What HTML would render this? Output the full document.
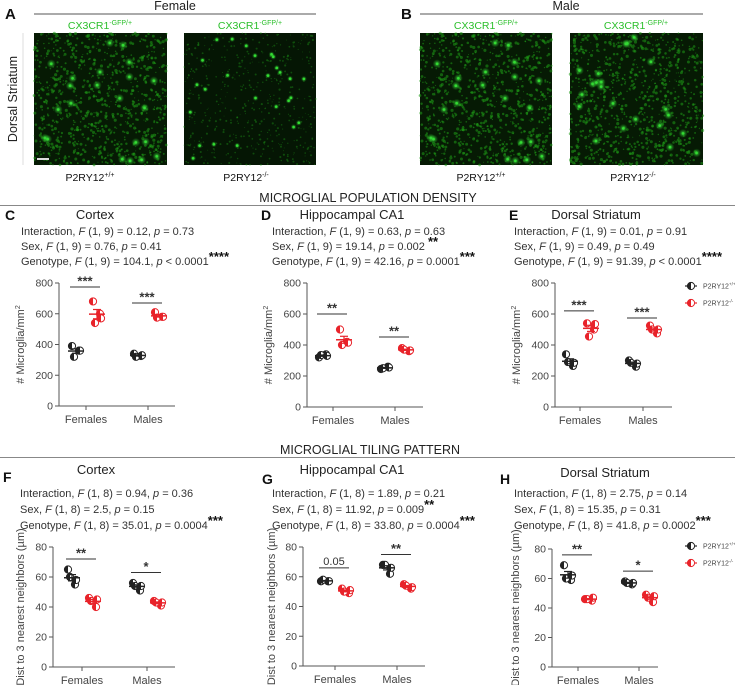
<!DOCTYPE html>
<html><head><meta charset="utf-8">
<style>
body{margin:0;background:#fff;}
svg{display:block;font-family:"Liberation Sans",Arial,sans-serif;}
</style></head>
<body>
<svg id="fig" width="735" height="685" viewBox="0 0 735 685" xmlns="http://www.w3.org/2000/svg">
<defs>
<radialGradient id="cell"><stop offset="0" stop-color="#4e4" stop-opacity="0.9"/><stop offset="1" stop-color="#2a2" stop-opacity="0"/></radialGradient>
</defs>
<g id="images"></g>
<g id="charts"></g>
</svg>
<script>
// ---- chart data ----
const groups = ["Females","Males"];
const densityTicks = [0,200,400,600,800];
const tilingTicks = [0,20,40,60,80];
// Panel C Cortex density
const cWtF=[390,360,320,360], cKoF=[680,600,540,570], cWtM=[340,325,320,330], cKoM=[610,580,575,580];
// Panel D Hippocampal CA1 density
const dWtF=[320,340,335,330], dKoF=[500,420,400,415], dWtM=[245,260,250,255], dKoM=[380,360,370,365];
// Panel E Dorsal Striatum density
const eWtF=[340,265,290,285], eKoF=[540,500,455,535], eWtM=[300,260,285,280], eKoM=[525,475,500,500];
// Panel F Cortex tiling
const fWtF=[65,55,60,58], fKoF=[46,40,44,45], fWtM=[56,51,54,54], fKoM=[44,41,43,43];
// Panel G Hippocampal CA1 tiling
const gWtF=[57,57,58,57], gKoF=[52,49,50,51], gWtM=[68,62,68,66], gKoM=[55,52,54,53];
// Panel H Dorsal Striatum tiling
const hWtF=[69,59,60,62], hKoF=[46,45,46,47], hWtM=[58,56,57,57], hKoM=[49,44,47,48];
// significance bar heights (data units) and labels
const cSig=[774,670], dSig=[600,452], eSig=[620,574], fSig=[72,63], gSig=[66,75], hSig=[76,65];
const cSigLbl=["***","***"], dSigLbl=["**","**"], eSigLbl=["***","***"], fSigLbl=["**","*"], gSigLbl=["0.05","**"], hSigLbl=["**","*"];

const NS="http://www.w3.org/2000/svg";
function mk(tag,attrs,parent,txt){const e=document.createElementNS(NS,tag);for(const k in attrs)e.setAttribute(k,attrs[k]);if(txt!==undefined)e.textContent=txt;parent.appendChild(e);return e;}
const root=document.getElementById('charts');
const imgRoot=document.getElementById('images');

// ---- top micrographs (decorative texture) ----
function micro(x,y,w,h,dense,name){
  const g=mk('g',{},imgRoot);
  
  
  mk('rect',{x:x,y:y,width:w,height:h,fill:dense?'#061a04':'#051604'},g);
  let s=dense*97+13;
  const rnd=()=>{s=(s*16807)%2147483647;return s/2147483647;};
  const n=dense?900:500;
  for(let i=0;i<n;i++){const cx=x+rnd()*w, cy=y+rnd()*h;const r=dense?(0.5+rnd()*1.1):(0.4+rnd()*0.7);
    mk('circle',{cx:cx,cy:cy,r:r,fill:'#1f9a18',opacity:dense?0.55:0.4},g);}
  const m=dense?22:26;
  for(let i=0;i<m;i++){const cx=x+4+rnd()*(w-8), cy=y+4+rnd()*(h-8);
    mk('circle',{cx:cx,cy:cy,r:dense?4.5:3,fill:'url(#cell)'},g);
    mk('circle',{cx:cx,cy:cy,r:1.3,fill:'#3d3'},g);}
}
micro(34,33,133,132,1,'female-wt-image');
micro(184,33,132,132,0,'female-ko-image');
micro(420,33,132,132,1,'male-wt-image');
micro(570,33,133,132,2,'male-ko-image');
mk('rect',{x:37,y:158,width:12,height:2,fill:'#ddd'},imgRoot);
const T=(x,y,txt,o,p)=>{const e=mk('text',Object.assign({x:x,y:y,'font-size':12,fill:'#222'},o||{}),p||root,txt);return e;};
function sup(x,y,base,s,color,anchor,name){const e=mk('text',{x:x,y:y,'font-size':10.5,fill:color,'text-anchor':anchor},imgRoot);e.appendChild(document.createTextNode(base));const t=mk('tspan',{'font-size':7,dy:-4},e,s);return e;}
let e;
e=T(5,19,'A',{'font-size':15,'font-weight':'bold',fill:'#111'},imgRoot);
e=T(401,19,'B',{'font-size':15,'font-weight':'bold',fill:'#111'},imgRoot);
e=T(175,10,'Female',{'text-anchor':'middle','font-size':12.5},imgRoot);
e=T(566,10,'Male',{'text-anchor':'middle','font-size':12.5},imgRoot);
mk('line',{x1:34,y1:14,x2:316,y2:14,stroke:'#555','stroke-width':1},imgRoot);
mk('line',{x1:420,y1:14,x2:703,y2:14,stroke:'#555','stroke-width':1},imgRoot);
mk('line',{x1:23,y1:33,x2:23,y2:165,stroke:'#ddd','stroke-width':1},imgRoot);
e=T(0,0,'Dorsal Striatum',{'text-anchor':'middle','font-size':12.5,transform:'translate(17,99) rotate(-90)'},imgRoot);
[[100,'female-wt'],[250,'female-ko'],[486,'male-wt'],[636,'male-ko']].forEach(([cx,n])=>{
  sup(cx,29,'CX3CR1','-GFP/+','#2bbf2b','middle',n+'-reporter-label');
});
sup(90,181,'P2RY12','+/+','#111','middle','female-wt-genotype');
sup(246,181,'P2RY12','-/-','#111','middle','female-ko-genotype');
sup(481,181,'P2RY12','+/+','#111','middle','male-wt-genotype');
sup(633,181,'P2RY12','-/-','#111','middle','male-ko-genotype');

// section titles
e=T(368,202,'MICROGLIAL POPULATION DENSITY',{'text-anchor':'middle','font-size':12.5});
mk('line',{x1:0,y1:205.5,x2:735,y2:205.5,stroke:'#888','stroke-width':1},root);
e=T(370,454,'MICROGLIAL TILING PATTERN',{'text-anchor':'middle','font-size':12.5});
mk('line',{x1:0,y1:457.5,x2:735,y2:457.5,stroke:'#888','stroke-width':1},root);

// ---- chart drawing ----
function marker(g,cx,cy,color){
  const r=3.6;
  mk('circle',{cx:cx,cy:cy,r:r,fill:'#fff',stroke:color,'stroke-width':1},g);
  mk('path',{d:`M${cx},${cy-r} A${r},${r} 0 0 0 ${cx},${cy+r} Z`,fill:color},g);
}
function statLine(g,x,y,parts,stars,name){
  const t=mk('text',{x:x,y:y,'font-size':11,fill:'#333'},g);
  
  
  parts.forEach(p=>{mk('tspan',p[1]?{'font-style':'italic'}:{},t,p[0]);});
  if(stars){mk('tspan',{'font-size':13,'font-weight':'bold',fill:'#111',dy:-4},t,stars);}
}
function panel(cfg){
  const g=mk('g',{},root);
  
  
  const ymax=cfg.ticks[cfg.ticks.length-1];
  const Y=v=>cfg.yBot-(v/ymax)*(cfg.yBot-cfg.yTop);
  let t=T(cfg.lx,cfg.ly,cfg.letter,{'font-size':14,'font-weight':'bold',fill:'#111'},g);
  
  t=T(cfg.tx,cfg.ty,cfg.title,{'text-anchor':'middle','font-size':13,fill:'#222'},g);
  
  cfg.stats.forEach((s,i)=>statLine(g,cfg.sx,cfg.sy[i],s[0],s[1],'stat-line-'+(i+1)));
  const ax=mk('g',{},g);
  
  mk('line',{x1:cfg.x0,y1:cfg.yTop,x2:cfg.x0,y2:cfg.yBot,stroke:'#555','stroke-width':1},ax);
  cfg.ticks.forEach(v=>{mk('line',{x1:cfg.x0-4,y1:Y(v),x2:cfg.x0,y2:Y(v),stroke:'#555'},ax);
    const tl=T(cfg.x0-6,Y(v)+3.5,String(v),{'text-anchor':'end','font-size':10.5,fill:'#444'},ax);
    });
  const xa=mk('g',{},g);
  
  mk('line',{x1:cfg.x0,y1:cfg.yBot,x2:cfg.xEnd,y2:cfg.yBot,stroke:'#555'},xa);
  groups.forEach((gn,i)=>{const gx=cfg.gx[i];mk('line',{x1:gx,y1:cfg.yBot,x2:gx,y2:cfg.yBot+4,stroke:'#555'},xa);
    const tl=T(gx,cfg.yBot+17,gn,{'text-anchor':'middle','font-size':11,fill:'#444'},xa);
    });
  t=T(0,0,'',{'text-anchor':'middle','font-size':11,fill:'#444',transform:`translate(${cfg.yx},${(cfg.yTop+cfg.yBot)/2}) rotate(-90)`},g);
  
  t.appendChild(document.createTextNode(cfg.ylab));
  if(cfg.ysup){mk('tspan',{'font-size':7,dy:-4},t,cfg.ysup);}
  const offs=[-4,3,-2,4];
  [[cfg.wt,'#222',-10,'wt'],[cfg.ko,'#e8232a',11,'ko']].forEach(([series,color,dx,sn])=>{
    series.forEach((vals,gi)=>{
      const sg=mk('g',{},g);
      
      
      const cx=cfg.gx[gi]+dx;
      const n=vals.length, mean=vals.reduce((a,b)=>a+b,0)/n;
      const sd=Math.sqrt(vals.reduce((a,b)=>a+(b-mean)*(b-mean),0)/(n-1)), sem=sd/Math.sqrt(n);
      vals.forEach((v,k)=>marker(sg,cx+offs[k%4],Y(v),color));
      mk('line',{x1:cx-8,y1:Y(mean),x2:cx+8,y2:Y(mean),stroke:color,'stroke-width':1.5},sg);
      mk('line',{x1:cx,y1:Y(mean-sem),x2:cx,y2:Y(mean+sem),stroke:color,'stroke-width':1.2},sg);
      mk('line',{x1:cx-4,y1:Y(mean+sem),x2:cx+4,y2:Y(mean+sem),stroke:color,'stroke-width':1.2},sg);
      mk('line',{x1:cx-4,y1:Y(mean-sem),x2:cx+4,y2:Y(mean-sem),stroke:color,'stroke-width':1.2},sg);
    });
  });
  cfg.sig.forEach((v,i)=>{
    const sg=mk('g',{},g);
    
    
    const gx=cfg.gx[i];
    mk('line',{x1:gx-16,y1:Y(v),x2:gx+14,y2:Y(v),stroke:'#333','stroke-width':1},sg);
    const lbl=cfg.sigLbl[i];
    const isNum=/\d/.test(lbl);
    T(gx-1,Y(v)-(isNum?3:1.5),lbl,{'text-anchor':'middle','font-size':isNum?11:13,'font-weight':isNum?'normal':'bold',fill:'#333'},sg);
  });
  if(cfg.legend){
    const lg=mk('g',{},g);
    
    
    [['#222','+/+',0],['#e8232a','-/-',17]].forEach(([c,s,dy])=>{
      const le=mk('g',{},lg);
      
      
      const ly=cfg.legend[1]+dy;
      mk('line',{x1:cfg.legend[0]-6,y1:ly,x2:cfg.legend[0]+6,y2:ly,stroke:c,'stroke-width':1.2},le);
      marker(le,cfg.legend[0],ly,c);
      const tt=T(cfg.legend[0]+12,ly+2.5,'P2RY12',{'font-size':7,fill:'#444'},le);
      mk('tspan',{'font-size':4.5,dy:-3},tt,s);
    });
  }
}
const S=(f,F1,pOp,pv)=>[[f+', ',false],['F',true],[' '+F1+', ',false],['p',true],[' '+pOp+' '+pv,false]];
const dTitle='# Microglia/mm', tTitle='Dist to 3 nearest neighbors (µm)';
panel({name:'panel-c-cortex-density',letter:'C',lx:5,ly:220,title:'Cortex',tx:95,ty:219,sx:21,sy:[235,250,265],
  stats:[[S('Interaction','(1, 9) = 0.12','=','0.73')],[S('Sex','(1, 9) = 0.76','=','0.41')],[S('Genotype','(1, 9) = 104.1','<','0.0001'),'****']],
  x0:59,xEnd:175,yTop:283,yBot:406,ticks:densityTicks,gx:[86,148],yx:24,ylab:dTitle,ysup:'2',
  wt:[cWtF,cWtM],ko:[cKoF,cKoM],sig:cSig,sigLbl:cSigLbl});
panel({name:'panel-d-ca1-density',letter:'D',lx:261,ly:220,title:'Hippocampal CA1',tx:352,ty:219,sx:272,sy:[235,250,265],
  stats:[[S('Interaction','(1, 9) = 0.63','=','0.63')],[S('Sex','(1, 9) = 19.14','=','0.002 '),'**'],[S('Genotype','(1, 9) = 42.16','=','0.0001'),'***']],
  x0:307,xEnd:423,yTop:283,yBot:407,ticks:densityTicks,gx:[333,395],yx:272,ylab:dTitle,ysup:'2',
  wt:[dWtF,dWtM],ko:[dKoF,dKoM],sig:dSig,sigLbl:dSigLbl});
panel({name:'panel-e-striatum-density',letter:'E',lx:509,ly:220,title:'Dorsal Striatum',tx:596,ty:219,sx:514,sy:[235,250,265],
  stats:[[S('Interaction','(1, 9) = 0.01','=','0.91')],[S('Sex','(1, 9) = 0.49','=','0.49')],[S('Genotype','(1, 9) = 91.39','<','0.0001'),'****']],
  x0:555,xEnd:672,yTop:283,yBot:407,ticks:densityTicks,gx:[580,643],yx:520,ylab:dTitle,ysup:'2',
  wt:[eWtF,eWtM],ko:[eKoF,eKoM],sig:eSig,sigLbl:eSigLbl,legend:[691,286]});
panel({name:'panel-f-cortex-tiling',letter:'F',lx:3,ly:482,title:'Cortex',tx:96,ty:474,sx:20,sy:[497,513,529],
  stats:[[S('Interaction','(1, 8) = 0.94','=','0.36')],[S('Sex','(1, 8) = 2.5','=','0.15')],[S('Genotype','(1, 8) = 35.01','=','0.0004'),'***']],
  x0:53,xEnd:175,yTop:547,yBot:667,ticks:tilingTicks,gx:[82,147],yx:24,ylab:tTitle,
  wt:[fWtF,fWtM],ko:[fKoF,fKoM],sig:fSig,sigLbl:fSigLbl});
panel({name:'panel-g-ca1-tiling',letter:'G',lx:262,ly:484,title:'Hippocampal CA1',tx:352,ty:474,sx:272,sy:[497,513,529],
  stats:[[S('Interaction','(1, 8) = 1.89','=','0.21')],[S('Sex','(1, 8) = 11.92','=','0.009'),'**'],[S('Genotype','(1, 8) = 33.80','=','0.0004'),'***']],
  x0:303,xEnd:425,yTop:547,yBot:666,ticks:tilingTicks,gx:[335,397],yx:275,ylab:tTitle,
  wt:[gWtF,gWtM],ko:[gKoF,gKoM],sig:gSig,sigLbl:gSigLbl});
panel({name:'panel-h-striatum-tiling',letter:'H',lx:500,ly:484,title:'Dorsal Striatum',tx:605,ty:477,sx:514,sy:[497,513,529],
  stats:[[S('Interaction','(1, 8) = 2.75','=','0.14')],[S('Sex','(1, 8) = 15.35','=','0.31')],[S('Genotype','(1, 8) = 41.8','=','0.0002'),'***']],
  x0:552,xEnd:658,yTop:549,yBot:667,ticks:tilingTicks,gx:[578,639],yx:519,ylab:tTitle,
  wt:[hWtF,hWtM],ko:[hKoF,hKoM],sig:hSig,sigLbl:hSigLbl,legend:[691,546]});
</script>
</body></html>
